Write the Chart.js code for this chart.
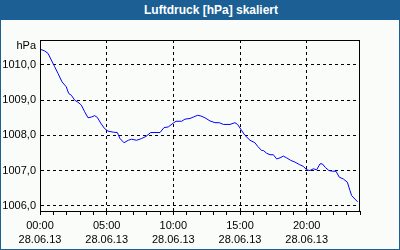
<!DOCTYPE html>
<html lang="de">
  <head>
    <meta charset="UTF-8" />
    <title>Luftdruck</title>
    <script src="https://cdn.jsdelivr.net/npm/chart.js"></script>
    <style>
      body { margin: 0; background: #fafcfa; }
      #wrap { position: relative; width: 400px; height: 250px; background: #fafcfa; }
      #chart { position: absolute; left: 0; top: 0; }
      #head {
        position: absolute; left: 0; top: 0; width: 400px; height: 20px;
        background: #1c5f94; color: #fff; box-sizing: border-box; padding-left: 22px;
        font: bold 12px "Liberation Sans", sans-serif; line-height: 20px; text-align: center;
      }
      #frame {
        position: absolute; left: 0; top: 0; width: 400px; height: 250px;
        border: 1px solid #1c5f94; box-sizing: border-box; pointer-events: none;
      }
    </style>
  </head>
  <body>
    <div id="wrap">
      <canvas id="chart" width="400" height="250"></canvas>
      <div id="head">Luftdruck [hPa] skaliert</div>
      <div id="frame"></div>
    </div>

    <script>
      // Stunden ab 28.06.13 00:00
      const hours = [
        0.0, 0.35, 0.6, 0.85, 1.1, 1.35, 1.65, 1.97, 2.15, 2.35, 2.6, 2.85,
        3.1, 3.35, 3.6, 3.85, 4.1, 4.3, 4.55, 4.85, 5.1, 5.5, 5.8, 6.0, 6.3,
        6.62, 6.87, 7.25, 7.62, 7.95, 8.3, 9.0, 9.3, 9.62, 10.0, 10.2, 10.62,
        10.87, 11.25, 11.5, 11.82, 12.07, 12.37, 12.75, 13.12, 13.45, 13.75,
        14.25, 14.62, 14.82, 15.12, 15.37, 15.75, 16.12, 16.32, 16.62, 16.75,
        17.0, 17.25, 17.5, 17.75, 18.0, 18.25, 18.5, 18.8, 19.12, 19.45,
        19.75, 20.0, 20.25, 20.5, 20.75, 21.0, 21.17, 21.42, 21.67, 21.95,
        22.2, 22.45, 22.75, 23.05, 23.25, 23.37, 23.62, 23.82,
      ]
      const pressure = [
        1010.45, 1010.4, 1010.33, 1010.14, 1009.95, 1009.76, 1009.52,
        1009.38, 1009.19, 1009.14, 1009.0, 1008.94, 1008.86, 1008.67, 1008.5,
        1008.52, 1008.56, 1008.51, 1008.35, 1008.19, 1008.12, 1008.09,
        1008.08, 1007.91, 1007.79, 1007.86, 1007.89, 1007.86, 1007.91,
        1007.97, 1008.08, 1008.08, 1008.22, 1008.24, 1008.35, 1008.4, 1008.4,
        1008.46, 1008.48, 1008.52, 1008.57, 1008.55, 1008.5, 1008.41,
        1008.36, 1008.36, 1008.31, 1008.31, 1008.36, 1008.31, 1008.14,
        1008.0, 1007.86, 1007.79, 1007.69, 1007.57, 1007.57, 1007.49,
        1007.45, 1007.45, 1007.33, 1007.36, 1007.41, 1007.36, 1007.29,
        1007.24, 1007.17, 1007.12, 1007.02, 1007.0, 1007.05, 1007.02,
        1007.19, 1007.19, 1007.08, 1007.0, 1006.98, 1006.98, 1006.81,
        1006.76, 1006.67, 1006.43, 1006.29, 1006.19, 1006.11,
      ]
      const yTicks = [1006, 1007, 1008, 1009, 1010]
      const unitLabel = 'hPa'
      const unitPos = 1010.54
      const dateLabel = '28.06.13'

      // Rahmen um die Zeichenfläche
      const frameBox = {
        id: 'frameBox',
        afterDraw(chart) {
          const a = chart.chartArea
          const ctx = chart.ctx
          ctx.save()
          ctx.strokeStyle = '#000'
          ctx.lineWidth = 1
          ctx.strokeRect(a.left + 0.5, a.top + 0.5, a.width - 1, a.height)
          ctx.restore()
        },
      }

      Chart.defaults.font.family = '"Liberation Sans", sans-serif'
      Chart.defaults.font.size = 11
      Chart.defaults.color = '#000'

      new Chart(document.getElementById('chart'), {
        type: 'line',
        data: {
          datasets: [
            {
              data: hours.map((h, i) => ({ x: h, y: pressure[i] })),
              borderColor: '#0000ff',
              borderWidth: 1,
              pointRadius: 0,
              tension: 0,
            },
          ],
        },
        options: {
          responsive: false,
          animation: false,
          events: [],
          layout: { padding: { left: 0, right: 40, top: 40, bottom: 0 } },
          plugins: { legend: { display: false }, tooltip: { enabled: false } },
          scales: {
            x: {
              type: 'linear',
              min: 0,
              max: 24,
              afterFit(s) { s.height = 39 },
              border: { color: '#000', width: 1, dash: [3, 3] },
              grid: {
                color: (c) => (c.tick && c.tick.value % 5 === 0 && c.tick.value > 0 && c.tick.value < 24 ? '#000' : 'rgba(0,0,0,0)'),
                tickColor: '#000',
                tickLength: 4,
              },
              ticks: {
                stepSize: 1,
                autoSkip: false,
                maxRotation: 0,
                padding: 4,
                font: { lineHeight: 1.3 },
                callback: (v) => (v % 5 === 0 && v < 24 ? [String(v).padStart(2, '0') + ':00', dateLabel] : ''),
              },
            },
            y: {
              min: 1005.85,
              max: 1010.71,
              afterFit(s) { s.width = 40 },
              afterBuildTicks(s) {
                s.ticks = yTicks.concat([unitPos]).map((v) => ({ value: v }))
              },
              border: { color: '#000', width: 1, dash: [3, 3] },
              grid: {
                color: (c) => (c.tick && c.tick.value < 1010.1 ? '#000' : 'rgba(0,0,0,0)'),
                drawTicks: false,
              },
              ticks: {
                padding: 4,
                callback: (v) => (v > 1010.1 ? unitLabel : v.toFixed(1).replace('.', ',')),
              },
            },
          },
        },
        plugins: [frameBox],
      })
    </script>
  </body>
</html>
